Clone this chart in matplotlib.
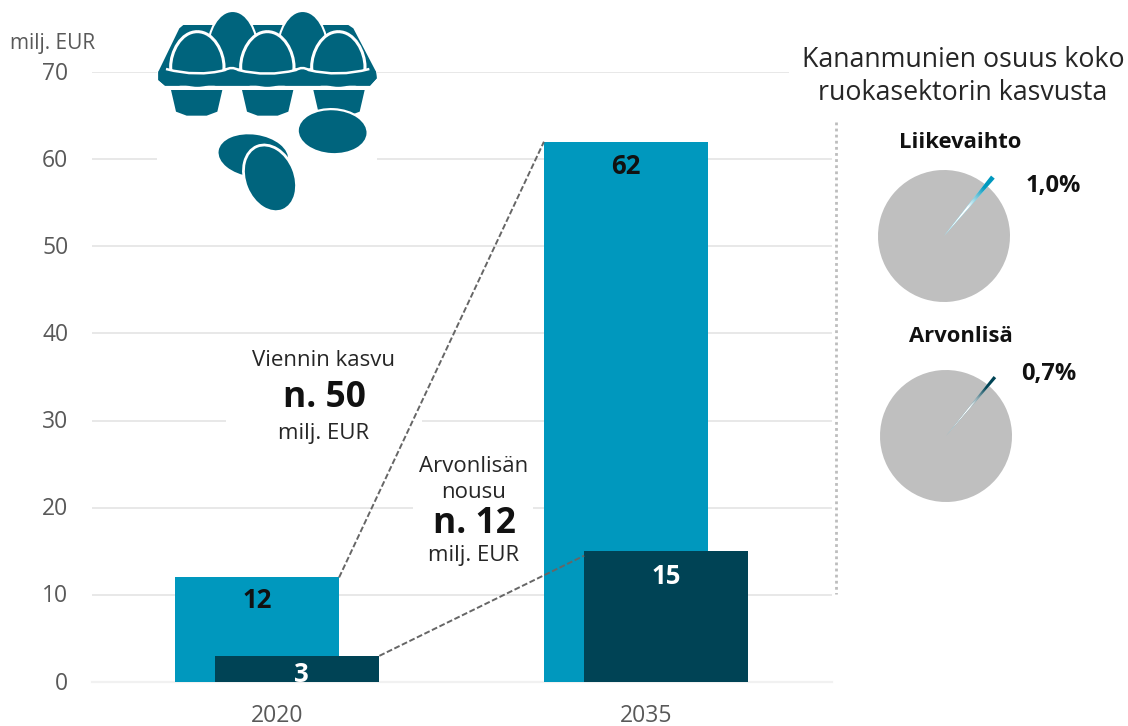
import numpy as np
import matplotlib
matplotlib.use('Agg')
import matplotlib.pyplot as plt
from matplotlib.patches import PathPatch, Ellipse, Rectangle, Polygon
from matplotlib.path import Path
from matplotlib.transforms import ScaledTranslation

plt.rcParams['font.family'] = ['Open Sans', 'DejaVu Sans']

years = ['2020', '2035']
exports = [12, 62]
value_added = [3, 15]
y_ticks = [0, 10, 20, 30, 40, 50, 60, 70]
pie_shares = [1.0, 0.7]
pie_titles = ['Liikevaihto', 'Arvonlisä']
pie_labels = ['1,0%', '0,7%']

W, H = 1128, 726
LIGHT = '#0098BE'
DARK = '#004355'
TEAL = '#00647D'
GREY = '#BFBFBF'
TICK = '#595959'
INK = '#262626'

fig = plt.figure(figsize=(W / 100, H / 100), dpi=100, facecolor='white')


def px_axes(x0, y0, x1, y1):
    """axes from pixel box, y measured from the top"""
    return fig.add_axes([x0 / W, 1 - y1 / H, (x1 - x0) / W, (y1 - y0) / H])


# main chart
ax = px_axes(92, 72, 832, 682)
ov = fig.add_axes([0, 0, 1, 1], zorder=5)
ov.set_xlim(0, W)
ov.set_ylim(H, 0)
ov.axis('off')

x = np.arange(len(years))
bar_w = 0.445
off_l, off_d = -0.054, 0.055
ax.set_xlim(-0.501, 1.504)
ax.set_ylim(0, 70)
ax.bar(x + off_l, exports, bar_w, color=LIGHT, zorder=2)
ax.bar(x + off_d, value_added, bar_w, color=DARK, zorder=3)
ax.set_yticks(y_ticks)
ax.set_xticks(x, years)
ax.tick_params(length=0, colors=TICK, labelsize=16.5)
ax.tick_params(axis='y', pad=17)
ax.tick_params(axis='x', pad=16)
ax.grid(axis='y', color='#E6E6E6', lw=1.3, zorder=0)
ax.set_axisbelow(True)
for s in ax.spines.values():
    s.set_visible(False)
ax.axhline(0, color='#F1F1F1', lw=1.6, zorder=1, clip_on=False)
# y labels sit a little above their gridlines
for lab in ax.get_yticklabels():
    lab.set_transform(lab.get_transform() + ScaledTranslation(0, 1 / 72, fig.dpi_scale_trans))

# gaps in the gridlines around icon and text
for gx0, gy0, gx1, gy1 in [(157, 60, 377, 165), (226, 412, 422, 430), (413, 500, 533, 516), (789, 64, 840, 80)]:
    ax.add_patch(Rectangle((gx0, gy0), gx1 - gx0, gy1 - gy0, transform=ov.transData, fc='white', ec='none',
                           zorder=1, clip_on=False))

# connectors between the bars
ax.plot([0 + off_l + bar_w / 2, 1 + off_l - bar_w / 2], [exports[0], exports[1]], color='#666666', lw=1.4,
        ls=(0, (3, 1.3)), zorder=4, clip_on=False)
ax.plot([0 + off_d + bar_w / 2, 1 + off_d - bar_w / 2], [value_added[0], value_added[1] - 0.5], color='#666666', lw=1.4,
        ls=(0, (3, 1.3)), zorder=4)

# dotted divider
ov.plot([836, 836], [122, 594], color='#BDBDBD', lw=2, ls=(0, (1, 1.2)))

# texts
ov.text(10, 44, 'milj. EUR', color=TICK, fontsize=15, va='center')
ov.text(257, 601, str(exports[0]), color='#111111', fontsize=18.5, fontweight='bold', ha='center', va='center')
ov.text(301, 674, str(value_added[0]), color='white', fontsize=18.5, fontweight='bold', ha='center', va='center')
ov.text(626, 167, str(exports[1]), color='#111111', fontsize=18.5, fontweight='bold', ha='center', va='center')
ov.text(666, 576, str(value_added[1]), color='white', fontsize=18.5, fontweight='bold', ha='center', va='center')

ov.text(324, 360, 'Viennin kasvu', color=INK, fontsize=16, ha='center', va='center')
ov.text(324, 398, 'n. 50', color='#111111', fontsize=25.5, fontweight='bold', ha='center', va='center')
ov.text(324, 433, 'milj. EUR', color=INK, fontsize=16, ha='center', va='center')
ov.text(474, 466, 'Arvonlisän', color=INK, fontsize=16, ha='center', va='center')
ov.text(474, 492, 'nousu', color=INK, fontsize=16, ha='center', va='center')
ov.text(474, 524, 'n. 12', color='#111111', fontsize=25.5, fontweight='bold', ha='center', va='center')
ov.text(474, 556, 'milj. EUR', color=INK, fontsize=16, ha='center', va='center')

ov.text(963, 60, 'Kananmunien osuus koko', color=INK, fontsize=19.3, ha='center', va='center')
ov.text(963, 93, 'ruokasektorin kasvusta', color=INK, fontsize=19.3, ha='center', va='center')


# pies
def draw_pie(cx, cy, share, color, title, label, tx, ty, lx, ly):
    r = 66
    box = 82
    pa = px_axes(cx - box, cy - box, cx + box, cy + box)
    lim = box / r
    start = 50.3 - share * 3.6 / 2
    pa.pie([share, 100 - share], colors=['white', GREY], startangle=start, radius=1, counterclock=True)
    tip, _ = pa.pie([share, 100 - share], colors=[color, 'none'], startangle=start, radius=1.16)
    # wedge fades to white toward the centre
    g = np.linspace(-1.2, 1.2, 300)
    xx, yy = np.meshgrid(g, g)
    rr = np.hypot(xx, yy)
    rgba = np.ones(rr.shape + (4,))
    rgba[..., 3] = np.clip((0.95 - rr) / 0.4, 0, 1)
    im = pa.imshow(rgba, extent=(-1.2, 1.2, -1.2, 1.2), origin='lower', zorder=5)
    im.set_clip_path(tip[0])
    pa.set_xlim(-lim, lim)
    pa.set_ylim(-lim, lim)
    pa.set_aspect('equal')
    pa.axis('off')
    ov.text(tx, ty, title, color='#111111', fontsize=15.8, fontweight='bold', ha='center', va='center')
    ov.text(lx, ly, label, color='#111111', fontsize=17, fontweight='bold', ha='center', va='center')


draw_pie(944, 236, pie_shares[0], LIGHT, pie_titles[0], pie_labels[0], 960.5, 142, 1053, 186)
draw_pie(946, 436, pie_shares[1], DARK, pie_titles[1], pie_labels[1], 961, 336, 1049, 374)


def zp(pts):
    return [(140 + a / 3, b / 3) for a, b in pts]


def egg(cx, top, bot, half, **kw):
    cy = top + (bot - top) * 0.62
    verts = [(cx, top), (cx + half * 0.62, top), (cx + half, cy - (cy - top) * 0.42), (cx + half, cy),
             (cx + half, bot - (bot - cy) * 0.3), (cx + half * 0.5, bot), (cx, bot),
             (cx - half * 0.5, bot), (cx - half, bot - (bot - cy) * 0.3), (cx - half, cy),
             (cx - half, cy - (cy - top) * 0.42), (cx - half * 0.62, top), (cx, top)]
    return PathPatch(Path(zp(verts), [Path.MOVETO] + [Path.CURVE4] * 12), **kw)


body = [(130, 75), (625, 75), (640, 85), (708, 215), (710, 235), (690, 257), (75, 257), (55, 240), (55, 215), (118, 85)]
ov.add_patch(Polygon(zp(body), closed=True, fc=TEAL, ec='none', zorder=6))
for c in [278, 488]:
    ov.add_patch(egg(c, 33, 210, 74, fc=TEAL, ec='white', lw=1.5, zorder=7))
for c in [172, 382, 595]:
    ov.add_patch(egg(c, 95, 265, 80, fc=TEAL, ec='white', lw=2.2, zorder=8))

# carton rim hides the lower part of the front eggs, its top edge is the white line
rim_top = [(78, 207), (172, 232), (255, 210), (275, 198), (295, 210), (382, 232), (468, 210), (487, 198), (506, 210),
           (595, 232), (688, 207)]
rim_codes = [Path.MOVETO] + [Path.CURVE3] * 10
rim_fill = rim_top + [(708, 215), (710, 235), (690, 257), (75, 257), (55, 240), (55, 215), (78, 207)]
ov.add_patch(PathPatch(Path(zp(rim_fill), rim_codes + [Path.LINETO] * 7), fc=TEAL, ec='none', zorder=9))
ov.add_patch(PathPatch(Path(zp(rim_top), rim_codes), fc='none', ec='white', lw=1.8, zorder=10))

for c in [170, 383, 597]:
    cup = [(c - 77, 270), (c + 77, 270), (c + 62, 335), (c + 30, 347), (c - 30, 347), (c - 62, 335)]
    ov.add_patch(Polygon(zp(cup), closed=True, fc=TEAL, ec='none', zorder=6))

# loose eggs
ov.add_patch(Ellipse(zp([(578, 395)])[0], 70, 45, angle=3, fc=TEAL, ec='white', lw=1.6, zorder=11))
ov.add_patch(Ellipse(zp([(340, 467)])[0], 70, 42, angle=8, fc=TEAL, ec='none', zorder=11))
ov.add_patch(Ellipse(zp([(390, 535)])[0], 50, 69, angle=-22, fc=TEAL, ec='white', lw=2, zorder=12))

fig.savefig('out.png', dpi=100)
